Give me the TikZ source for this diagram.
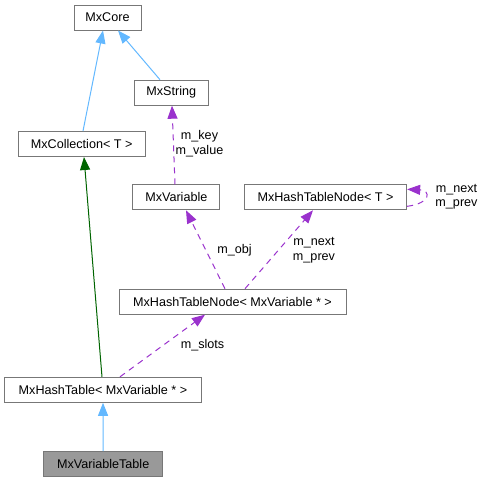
\documentclass[tikz,border=0pt]{standalone}
\usepackage{fontspec}
\setmainfont{Liberation Sans}
\usetikzlibrary{arrows.meta}
\definecolor{boxborder}{HTML}{777777}
\definecolor{boxgray}{HTML}{999999}
\definecolor{inhblue}{HTML}{63B8FF}
\definecolor{inhgreen}{HTML}{006400}
\definecolor{usepurple}{HTML}{9A32CD}
\tikzset{
  cls/.style={draw=boxborder, line width=1pt, fill=white, minimum height=25pt, inner sep=0pt,
    font=\fontsize{12.6}{14.5}\selectfont},
  lbl/.style={inner sep=0pt, align=center, font=\fontsize{12.6}{14.5}\selectfont},
  tip/.style={-{Triangle[length=13pt,width=10pt]}},
  inh/.style={tip, draw=inhblue, line width=1pt},
  inhg/.style={tip, draw=inhgreen, line width=1pt},
  usedash/.style={tip, draw=usepurple, line width=1pt, dash pattern=on 6pt off 5pt},
}
\begin{document}
\begin{tikzpicture}[x=1pt,y=-1pt]
\useasboundingbox (0,0) rectangle (482,483);
\node[cls, minimum width=67pt] (core) at (107.5,17.5) {MxCore};
\node[cls, minimum width=74pt] (string) at (171.3,92.7) {MxString};
\node[cls, minimum width=126.7pt] (coll) at (81.7,144) {MxCollection< T >};
\node[cls, minimum width=87.3pt] (var) at (176.3,197.3) {MxVariable};
\node[cls, minimum width=162.3pt] (nodeT) at (325.5,197.3) {MxHashTableNode< T >};
\node[cls, minimum width=227pt] (nodeV) at (232.5,301.7) {MxHashTableNode< MxVariable * >};
\node[cls, minimum width=196.7pt] (table) at (103,389.8) {MxHashTable< MxVariable * >};
\node[cls, minimum width=119pt, fill=boxgray] (vt) at (103.2,464.2) {MxVariableTable};

\draw[inh] ([xshift=1.3pt]coll.north) -- ([xshift=-4.5pt]core.south);
\draw[inh] ([xshift=-11.3pt]string.north) -- ([xshift=10.5pt]core.south);
\draw[usedash] ([xshift=-1.3pt]var.north) -- ([xshift=0.7pt]string.south);
\node[lbl] (lkey) at (199.5,143.5) {m\_key\\m\_value};
\draw[inhg] ([xshift=-1pt]table.north) -- ([xshift=2.3pt]coll.south);
\draw[usedash] ([xshift=-7.5pt]nodeV.north) -- ([xshift=9.7pt]var.south);
\node[lbl] (lobj) at (234.5,250) {m\_obj};
\draw[usedash] ([xshift=12.5pt]nodeV.north) -- ([xshift=-12.5pt]nodeT.south);
\node[lbl] (lnp) at (314,250) {m\_next\\m\_prev};
\draw[usedash] ([xshift=17pt]table.north) -- ([xshift=-27.5pt]nodeV.south);
\node[lbl] (lslots) at (202.5,345) {m\_slots};
\draw[inh] (vt.north) -- (table.south);
\draw[usedash] ([yshift=-9pt]nodeT.east) .. controls +(24,-3) and +(24,1) .. ([yshift=8pt]nodeT.east);
\node[lbl] (lself) at (456.5,196.5) {m\_next\\m\_prev};
\end{tikzpicture}
\end{document}
